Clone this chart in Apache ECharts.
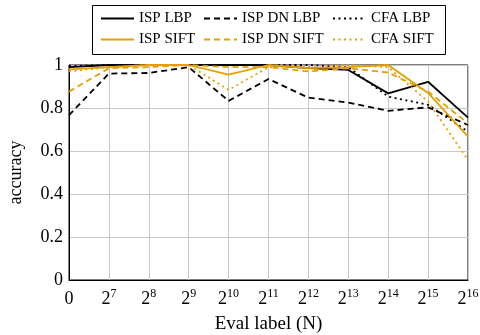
<!DOCTYPE html>
<html>
<head>
<meta charset="utf-8">
<script src="https://cdn.jsdelivr.net/npm/echarts@6/dist/echarts.min.js"></script>
<style>html,body{margin:0;padding:0;background:#fff;}#c{width:480px;height:335px;}</style>
</head>
<body>
<div id="c"></div>
<script>
var categories = ['0','2^7','2^8','2^9','2^10','2^11','2^12','2^13','2^14','2^15','2^16'];
var yTicks = [0, 0.2, 0.4, 0.6, 0.8, 1];
var ispLBP    = [0.99, 1.0, 1.0, 1.0, 1.0, 1.0, 0.985, 0.977, 0.868, 0.922, 0.755];
var ispDnLBP  = [0.767, 0.96, 0.963, 0.99, 0.833, 0.935, 0.848, 0.825, 0.787, 0.803, 0.721];
var cfaLBP    = [0.995, 1.0, 1.0, 1.0, 1.0, 1.0, 1.0, 0.99, 0.853, 0.815, 0.69];
var ispSIFT   = [0.98, 0.99, 1.0, 1.0, 0.955, 1.0, 0.985, 0.99, 1.0, 0.87, 0.667];
var ispDnSIFT = [0.876, 0.985, 0.99, 1.0, 0.99, 0.99, 0.97, 0.985, 0.965, 0.876, 0.729];
var cfaSIFT   = [0.97, 0.99, 1.0, 1.0, 0.884, 0.99, 0.995, 1.0, 0.99, 0.83, 0.558];

var ORANGE = '#E69F00';
var FONT = 'Liberation Serif';
var chart = echarts.init(document.getElementById('c'), null, {renderer: 'canvas'});

function mk(name, data, color, type) {
  return {
    name: name, type: 'line', data: data, symbol: 'none', smooth: false,
    lineStyle: {color: color, width: 1.8, type: type === 'solid' ? 'solid' : (type === 'dashed' ? [6, 4] : [2, 3.5])},
    itemStyle: {color: color},
    emphasis: {disabled: true}
  };
}
var series = [
  mk('ISP LBP', ispLBP, '#000', 'solid'),
  mk('ISP DN LBP', ispDnLBP, '#000', 'dashed'),
  mk('CFA LBP', cfaLBP, '#000', 'dotted'),
  mk('ISP SIFT', ispSIFT, ORANGE, 'solid'),
  mk('ISP DN SIFT', ispDnSIFT, ORANGE, 'dashed'),
  mk('CFA SIFT', cfaSIFT, ORANGE, 'dotted')
];
var legPos = [[100, 11], [203, 11], [332, 11], [100, 32], [203, 32], [332, 32]];
var legends = series.map(function (s, i) {
  return {
    data: [s.name], left: legPos[i][0], top: legPos[i][1], itemWidth: 33, itemHeight: 14, itemGap: 0,
    selectedMode: false, padding: 0,
    itemStyle: {color: 'rgba(0,0,0,0)', borderWidth: 0, opacity: 0},
    textStyle: {fontFamily: FONT, fontSize: 15, color: '#000', padding: [0, 0, 0, 0]}
  };
});

chart.setOption({
  animation: false,
  backgroundColor: '#fff',
  grid: {left: 69, right: 12, top: 65, bottom: 55, show: true, borderColor: '#000', borderWidth: 1, containLabel: false, outerBoundsMode: 'none'},
  legend: legends,
  graphic: [{type: 'rect', shape: {x: 92.5, y: 5.5, width: 353, height: 49}, style: {fill: 'none', stroke: '#000', lineWidth: 1}, z: 100}],
  xAxis: {
    type: 'category', data: categories, boundaryGap: false,
    name: 'Eval label (N)', nameLocation: 'middle', nameGap: 35,
    nameTextStyle: {fontFamily: FONT, fontSize: 19, color: '#000'},
    axisLine: {lineStyle: {color: '#000', width: 1}},
    axisTick: {show: false},
    splitLine: {show: true, lineStyle: {color: '#c8c8c8', width: 1}},
    axisLabel: {
      margin: 8, interval: 0, color: '#000',
      formatter: function (v) {
        if (v.indexOf('^') < 0) return '{b|' + v + '}';
        var p = v.split('^');
        return '{b|' + p[0] + '}{s|' + p[1] + '}';
      },
      rich: {
        b: {fontFamily: FONT, fontSize: 18, lineHeight: 22, color: '#000'},
        s: {fontFamily: FONT, fontSize: 12, lineHeight: 12, verticalAlign: 'top', color: '#000'}
      }
    }
  },
  yAxis: {
    type: 'value', min: 0, max: 1, interval: 0.2,
    name: 'accuracy', nameLocation: 'middle', nameGap: 44,
    nameTextStyle: {fontFamily: FONT, fontSize: 18, color: '#000'},
    axisLine: {show: true, lineStyle: {color: '#000', width: 1}},
    axisTick: {show: false},
    splitLine: {show: true, lineStyle: {color: '#c8c8c8', width: 1}},
    axisLabel: {
      margin: 6, color: '#000', fontFamily: FONT, fontSize: 18,
      formatter: function (v) { return yTicks.indexOf(Math.round(v * 10) / 10) >= 0 ? String(Math.round(v * 10) / 10) : ''; }
    }
  },
  series: series
});
</script>
</body>
</html>
